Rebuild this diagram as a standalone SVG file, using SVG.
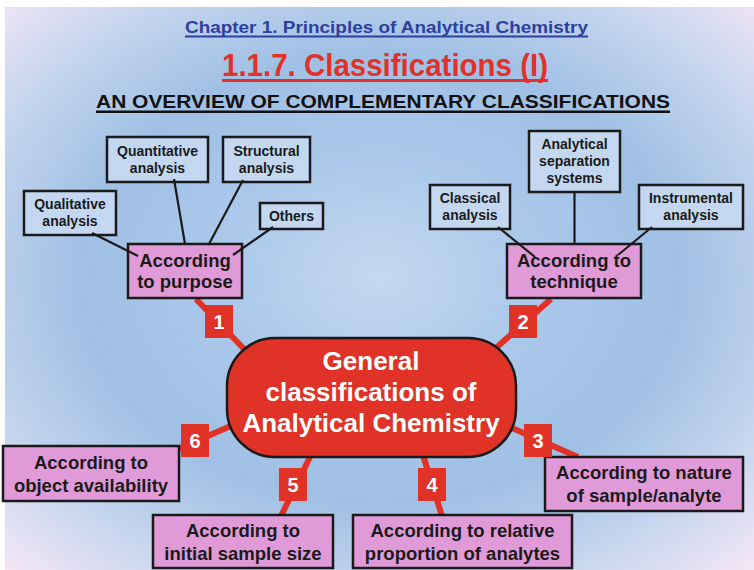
<svg xmlns="http://www.w3.org/2000/svg" width="754" height="570" viewBox="0 0 754 570">
  <defs>
    <radialGradient id="bg" cx="0.5" cy="0.48" r="0.72">
      <stop offset="0" stop-color="#c4d8f0"/>
      <stop offset="0.3" stop-color="#aac8ea"/>
      <stop offset="0.55" stop-color="#9fc0e4"/>
      <stop offset="0.78" stop-color="#c4d5ee"/>
      <stop offset="1" stop-color="#f4e6f6"/>
    </radialGradient>
    <style>
      .t { font-family: "Liberation Sans", Arial, sans-serif; font-weight: bold; text-anchor: middle; }
      .small { font-size: 14px; fill: #1a1a1a; }
      .pinkt { font-size: 18.5px; fill: #1a1a1a; }
      .box { fill: #c3d8f0; stroke: #1a1a1a; stroke-width: 2.5; }
      .pink { fill: #e19ad8; stroke: #1a1a1a; stroke-width: 2.5; }
      .blk { stroke: #1a1a1a; stroke-width: 2.2; fill: none; }
      .red { stroke: #e03226; stroke-width: 6; fill: none; }
      .badge { fill: #e03226; }
      .bt { font-size: 20px; fill: #ffffff; }
    </style>
  </defs>

  <rect x="0" y="0" width="754" height="570" fill="#ffffff"/>
  <rect x="5" y="7" width="749" height="563" fill="url(#bg)"/>

  <g id="titles">
    <text class="t" x="386.5" y="33" font-size="16.5" fill="#2e3f9e" textLength="403" lengthAdjust="spacingAndGlyphs">Chapter 1. Principles of Analytical Chemistry</text>
    <rect x="185" y="35.5" width="403" height="2" fill="#2e3f9e"/>
    <text class="t" x="385" y="76" font-size="32" fill="#e0312a" textLength="326" lengthAdjust="spacingAndGlyphs">1.1.7. Classifications (I)</text>
    <rect x="222" y="79" width="326" height="3" fill="#e0312a"/>
    <text class="t" x="383" y="108" font-size="19" fill="#111111" textLength="574" lengthAdjust="spacingAndGlyphs">AN OVERVIEW OF COMPLEMENTARY CLASSIFICATIONS</text>
    <rect x="96" y="110.5" width="574" height="2.5" fill="#111111"/>
  </g>

  <g id="connectors-red">
    <line class="red" x1="196" y1="299" x2="245" y2="350"/>
    <line class="red" x1="551" y1="299" x2="497" y2="347"/>
    <line class="red" x1="512" y1="428" x2="578" y2="457"/>
    <line class="red" x1="423" y1="455" x2="442" y2="516"/>
    <line class="red" x1="311" y1="455" x2="281" y2="516"/>
    <line class="red" x1="233" y1="425" x2="178" y2="449"/>
  </g>

  <g id="node-center">
    <rect x="227" y="338" width="289" height="119" rx="48" ry="48" fill="#e03226" stroke="#1a1a1a" stroke-width="2.5"/>
    <text class="t" x="371" y="370" font-size="26" fill="#ffffff">General</text>
    <text class="t" x="371" y="401" font-size="26" fill="#ffffff">classifications of</text>
    <text class="t" x="371" y="432" font-size="26" fill="#ffffff">Analytical Chemistry</text>
  </g>

  <g id="node-purpose">
    <rect class="pink" x="128" y="244" width="114" height="54"/>
    <text class="t pinkt" x="185" y="267">According</text>
    <text class="t pinkt" x="185" y="288">to purpose</text>
  </g>
  <g id="node-technique">
    <rect class="pink" x="507" y="244" width="134" height="54"/>
    <text class="t pinkt" x="574" y="267">According to</text>
    <text class="t pinkt" x="574" y="288">technique</text>
  </g>
  <g id="node-nature">
    <rect class="pink" x="545" y="457" width="198" height="54"/>
    <text class="t pinkt" x="644" y="479">According to nature</text>
    <text class="t pinkt" x="644" y="502">of sample/analyte</text>
  </g>
  <g id="node-proportion">
    <rect class="pink" x="353" y="515" width="219" height="53"/>
    <text class="t pinkt" x="462.5" y="537">According to relative</text>
    <text class="t pinkt" x="462.5" y="560">proportion of analytes</text>
  </g>
  <g id="node-size">
    <rect class="pink" x="153" y="515" width="180" height="53"/>
    <text class="t pinkt" x="243" y="537">According to</text>
    <text class="t pinkt" x="243" y="560">initial sample size</text>
  </g>
  <g id="node-availability">
    <rect class="pink" x="3" y="446" width="176" height="55"/>
    <text class="t pinkt" x="91" y="469">According to</text>
    <text class="t pinkt" x="91" y="492">object availability</text>
  </g>

  <g id="node-qualitative">
    <rect class="box" x="24" y="191" width="92" height="44"/>
    <text class="t small" x="70" y="209">Qualitative</text>
    <text class="t small" x="70" y="226">analysis</text>
  </g>
  <g id="node-quantitative">
    <rect class="box" x="107" y="137" width="101" height="45"/>
    <text class="t small" x="157.5" y="156">Quantitative</text>
    <text class="t small" x="157.5" y="173">analysis</text>
  </g>
  <g id="node-structural">
    <rect class="box" x="223" y="137" width="87" height="45"/>
    <text class="t small" x="266.5" y="156">Structural</text>
    <text class="t small" x="266.5" y="173">analysis</text>
  </g>
  <g id="node-others">
    <rect class="box" x="260" y="203" width="63" height="26"/>
    <text class="t small" x="291.5" y="221">Others</text>
  </g>
  <g id="node-classical">
    <rect class="box" x="430" y="185" width="80" height="44"/>
    <text class="t small" x="470" y="203">Classical</text>
    <text class="t small" x="470" y="220">analysis</text>
  </g>
  <g id="node-separation">
    <rect class="box" x="529" y="131" width="91" height="61"/>
    <text class="t small" x="574.5" y="149">Analytical</text>
    <text class="t small" x="574.5" y="166">separation</text>
    <text class="t small" x="574.5" y="183">systems</text>
  </g>
  <g id="node-instrumental">
    <rect class="box" x="639" y="185" width="104" height="44"/>
    <text class="t small" x="691" y="203">Instrumental</text>
    <text class="t small" x="691" y="220">analysis</text>
  </g>

  <g id="connectors-black">
    <line class="blk" x1="92" y1="233" x2="138" y2="256"/>
    <line class="blk" x1="174" y1="179" x2="185" y2="244"/>
    <line class="blk" x1="243" y1="180" x2="209" y2="244"/>
    <line class="blk" x1="273" y1="227" x2="233" y2="255"/>
    <line class="blk" x1="498" y1="227" x2="535" y2="257"/>
    <line class="blk" x1="574.5" y1="192" x2="574.5" y2="244"/>
    <line class="blk" x1="652" y1="227" x2="618" y2="255"/>
  </g>

  <g id="badges">
    <rect class="badge" x="205" y="305" width="28" height="33"/>
    <text class="t bt" x="219" y="329">1</text>
    <rect class="badge" x="509" y="305" width="28" height="33"/>
    <text class="t bt" x="523" y="329">2</text>
    <rect class="badge" x="524" y="424" width="28" height="33"/>
    <text class="t bt" x="538" y="448">3</text>
    <rect class="badge" x="418" y="468" width="28" height="33"/>
    <text class="t bt" x="432" y="492">4</text>
    <rect class="badge" x="279" y="468" width="28" height="33"/>
    <text class="t bt" x="293" y="492">5</text>
    <rect class="badge" x="181" y="424" width="28" height="33"/>
    <text class="t bt" x="195" y="448">6</text>
  </g>
</svg>
